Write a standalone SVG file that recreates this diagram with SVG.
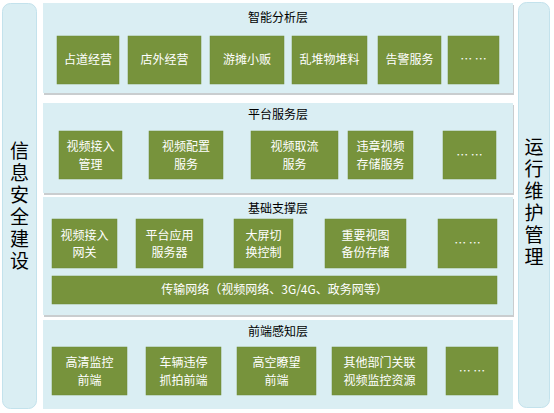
<svg xmlns="http://www.w3.org/2000/svg" width="554" height="413" viewBox="0 0 554 413">
<defs>
<style>
.side{fill:#DAEEF3;stroke:#C3E2EC;stroke-width:1}
.panel{fill:#DAEEF3}
.shadow{fill:#C9CDCF}
.box{fill:#77933C;stroke:#6E8A35;stroke-width:0.5}
.bt{fill:#FFFFFF;font-family:"Noto Sans CJK SC","Noto Sans",sans-serif;font-size:12px;text-anchor:middle}
.lt{fill:#000000;font-family:"Noto Sans CJK SC","Noto Sans",sans-serif;font-size:12px;text-anchor:middle}
.st{fill:#000000;font-family:"Noto Sans CJK SC","Noto Sans",sans-serif;font-size:19px;writing-mode:vertical-rl;letter-spacing:3px}
</style>
</defs>
<rect width="554" height="413" fill="#FFFFFF"/>
<g id="left-bar">
<rect class="side" x="2.5" y="3.5" width="34" height="405" rx="8"/>
<text class="st" x="19.5" y="141">信息安全建设</text>
</g>
<g id="right-bar">
<rect class="side" x="518.5" y="2.5" width="31" height="405" rx="8"/>
<text class="st" x="534" y="137">运行维护管理</text>
</g>
<g id="layer-analysis">
<rect class="shadow" x="44" y="5" width="470" height="90"/>
<rect class="panel" x="43" y="3" width="470" height="90"/>
<text class="lt" x="278" y="22">智能分析层</text>
<g id="a1"><rect class="box" x="57" y="36" width="62" height="48"/><text class="bt" x="88" y="64">占道经营</text></g>
<g id="a2"><rect class="box" x="128" y="36" width="73" height="48"/><text class="bt" x="164.5" y="64">店外经营</text></g>
<g id="a3"><rect class="box" x="210" y="36" width="74" height="48"/><text class="bt" x="247" y="64">游摊小贩</text></g>
<g id="a4"><rect class="box" x="292" y="36" width="75" height="48"/><text class="bt" x="329.5" y="64">乱堆物堆料</text></g>
<g id="a5"><rect class="box" x="378" y="36" width="63" height="48"/><text class="bt" x="409.5" y="64">告警服务</text></g>
<g id="a6"><rect class="box" x="448" y="36" width="51" height="48"/><text class="bt" x="473.5" y="64">… …</text></g>
</g>
<g id="layer-platform">
<rect class="shadow" x="44" y="105" width="470" height="90"/>
<rect class="panel" x="43" y="103" width="470" height="90"/>
<text class="lt" x="278" y="119">平台服务层</text>
<g id="p1"><rect class="box" x="59" y="131" width="63" height="48"/><text class="bt" x="90.5" y="151">视频接入<tspan x="90.5" dy="17.5">管理</tspan></text></g>
<g id="p2"><rect class="box" x="149" y="131" width="74" height="48"/><text class="bt" x="186" y="151">视频配置<tspan x="186" dy="17.5">服务</tspan></text></g>
<g id="p3"><rect class="box" x="251" y="131" width="87" height="48"/><text class="bt" x="294.5" y="151">视频取流<tspan x="294.5" dy="17.5">服务</tspan></text></g>
<g id="p4"><rect class="box" x="348" y="131" width="65" height="48"/><text class="bt" x="380.5" y="151">违章视频<tspan x="380.5" dy="17.5">存储服务</tspan></text></g>
<g id="p5"><rect class="box" x="443" y="131" width="53" height="48"/><text class="bt" x="469.5" y="160">… …</text></g>
</g>
<g id="layer-base">
<rect class="shadow" x="44" y="199" width="470" height="118"/>
<rect class="panel" x="43" y="197" width="470" height="118"/>
<text class="lt" x="278" y="213">基础支撑层</text>
<g id="b1"><rect class="box" x="52" y="219" width="65" height="49"/><text class="bt" x="84.5" y="239.5">视频接入<tspan x="84.5" dy="17.5">网关</tspan></text></g>
<g id="b2"><rect class="box" x="136" y="219" width="67" height="49"/><text class="bt" x="169.5" y="239.5">平台应用<tspan x="169.5" dy="17.5">服务器</tspan></text></g>
<g id="b3"><rect class="box" x="234" y="219" width="59" height="49"/><text class="bt" x="263.5" y="239.5">大屏切<tspan x="263.5" dy="17.5">换控制</tspan></text></g>
<g id="b4"><rect class="box" x="325" y="219" width="81" height="49"/><text class="bt" x="365.5" y="239.5">重要视图<tspan x="365.5" dy="17.5">备份存储</tspan></text></g>
<g id="b5"><rect class="box" x="438" y="219" width="59" height="49"/><text class="bt" x="467.5" y="248">… …</text></g>
<g id="b6"><rect class="box" x="52" y="276" width="445" height="28"/><text class="bt" x="274.5" y="294">传输网络（视频网络、3G/4G、政务网等）</text></g>
</g>
<g id="layer-front">
<rect class="panel" x="43" y="320" width="470" height="89"/>
<text class="lt" x="278" y="336">前端感知层</text>
<g id="f1"><rect class="box" x="52" y="347" width="75" height="48"/><text class="bt" x="89.5" y="367">高清监控<tspan x="89.5" dy="17.5">前端</tspan></text></g>
<g id="f2"><rect class="box" x="146" y="347" width="75" height="48"/><text class="bt" x="183.5" y="367">车辆违停<tspan x="183.5" dy="17.5">抓拍前端</tspan></text></g>
<g id="f3"><rect class="box" x="237" y="347" width="79" height="48"/><text class="bt" x="276.5" y="367">高空瞭望<tspan x="276.5" dy="17.5">前端</tspan></text></g>
<g id="f4"><rect class="box" x="332" y="347" width="95" height="48"/><text class="bt" x="379.5" y="367">其他部门关联<tspan x="379.5" dy="17.5">视频监控资源</tspan></text></g>
<g id="f5"><rect class="box" x="446" y="347" width="52" height="48"/><text class="bt" x="472" y="376">… …</text></g>
</g>
<g id="connectors"></g>
</svg>
